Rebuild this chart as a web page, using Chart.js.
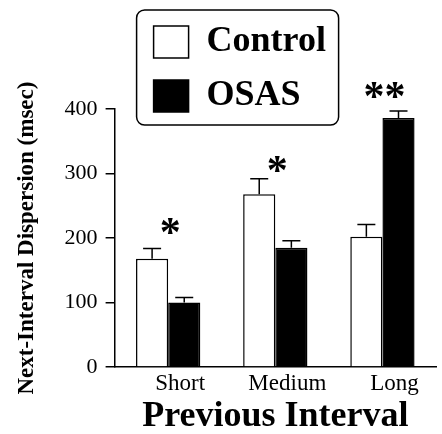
<!DOCTYPE html>
<html>
<head>
<meta charset="utf-8">
<script src="https://cdn.jsdelivr.net/npm/chart.js@4/dist/chart.umd.min.js"></script>
<style>
  html, body { margin: 0; padding: 0; background: #fff; }
  #wrap { width: 442px; height: 434px; }
</style>
</head>
<body>
<div id="wrap"><canvas id="chart" width="442" height="434"></canvas></div>
<script>
const categories   = ['Short', 'Medium', 'Long']
const controlVals  = [168, 268, 202]
const controlErr   = [16, 24, 19]
const osasVals     = [100, 185, 386]
const osasErr      = [8, 11, 11]
const sigLabels    = ['*', '*', '**']
const sigLevels    = [219, 314, 429]
const yTicks       = [0, 100, 200, 300, 400]

const serif = 'Liberation Serif'

// error bars, only the upper half
const errorBars = {
  id: 'errorBars',
  afterDatasetsDraw (chart) {
    const ctx = chart.ctx
    const y = chart.scales.y
    const errs = [controlErr, osasErr]
    ctx.save()
    ctx.strokeStyle = '#000'
    ctx.lineWidth = 1.5
    chart.data.datasets.forEach((ds, d) => {
      chart.getDatasetMeta(d).data.forEach((bar, i) => {
        const top = y.getPixelForValue(ds.data[i] + errs[d][i])
        ctx.beginPath()
        ctx.moveTo(bar.x, bar.y)
        ctx.lineTo(bar.x, top)
        ctx.moveTo(bar.x - 9, top)
        ctx.lineTo(bar.x + 9, top)
        ctx.stroke()
      })
    })
    ctx.restore()
  }
}

// significance stars above each group
const stars = {
  id: 'stars',
  afterDraw (chart) {
    const ctx = chart.ctx
    const x = chart.scales.x
    const y = chart.scales.y
    ctx.save()
    ctx.fillStyle = '#000'
    ctx.font = 'bold 42px ' + serif
    ctx.textAlign = 'center'
    ctx.textBaseline = 'middle'
    sigLabels.forEach((s, i) => {
      ctx.fillText(s, x.getPixelForValue(i) + 2, y.getPixelForValue(sigLevels[i]) + 9)
    })
    ctx.restore()
  }
}

// move the legend into the upper left corner and frame it
const legendBox = {
  id: 'legendBox',
  afterLayout (chart) {
    const lg = chart.legend
    const a = chart.chartArea
    lg.left = a.left + 21
    lg.top = a.top - 103
    lg.width = 200
    lg.height = 200
    lg.right = lg.left + lg.width
    lg.bottom = lg.top + lg.height
  },
  afterDraw (chart) {
    const lg = chart.legend
    const ctx = chart.ctx
    ctx.save()
    ctx.strokeStyle = '#000'
    ctx.lineWidth = 1.5
    ctx.beginPath()
    ctx.roundRect(lg.left + 1, lg.top + 4, 202, 115, 8)
    ctx.stroke()
    ctx.restore()
  }
}

const ctx = document.getElementById('chart').getContext('2d')

new Chart(ctx, {
  type: 'bar',
  data: {
    labels: categories,
    datasets: [
      {
        label: 'Control',
        data: controlVals,
        backgroundColor: '#ffffff',
        borderColor: '#000000',
        borderWidth: 1.5
      },
      {
        label: 'OSAS',
        data: osasVals,
        backgroundColor: '#000000',
        borderColor: '#000000',
        borderWidth: 1.5
      }
    ]
  },
  options: {
    responsive: false,
    animation: false,
    layout: {
      padding: { left: 13, top: 109, right: 6, bottom: 0 }
    },
    datasets: {
      bar: { categoryPercentage: 0.6, barPercentage: 1.0 }
    },
    plugins: {
      legend: {
        position: 'chartArea',
        align: 'start',
        labels: {
          color: '#000',
          boxWidth: 35,
          boxHeight: 32,
          padding: 18,
          font: { family: serif, size: 36, weight: 'bold' }
        }
      },
      tooltip: { enabled: false }
    },
    scales: {
      x: {
        grid: { display: false, drawTicks: false },
        border: { display: true, color: '#000', width: 1.5 },
        ticks: {
          color: '#000',
          padding: 1,
          labelOffset: 12,
          font: { family: serif, size: 23, lineHeight: 1.35 }
        },
        title: {
          display: true,
          text: 'Previous Interval',
          color: '#000',
          padding: 0,
          font: { family: serif, size: 36, weight: 'bold', lineHeight: 0.94 }
        }
      },
      y: {
        min: 0,
        max: 400,
        afterBuildTicks: (axis) => { axis.ticks = yTicks.map(v => ({ value: v })) },
        grid: {
          display: true,
          drawOnChartArea: false,
          drawTicks: true,
          tickLength: 9,
          color: '#000',
          lineWidth: 1.5
        },
        border: { display: true, color: '#000', width: 1.5 },
        ticks: {
          color: '#000',
          padding: 8,
          font: { family: serif, size: 22 }
        },
        title: {
          display: true,
          text: 'Next-Interval Dispersion (msec)',
          color: '#000',
          padding: { top: 0, bottom: 16 },
          font: { family: serif, size: 23, weight: 'bold' }
        }
      }
    }
  },
  plugins: [errorBars, stars, legendBox]
})
</script>
</body>
</html>
